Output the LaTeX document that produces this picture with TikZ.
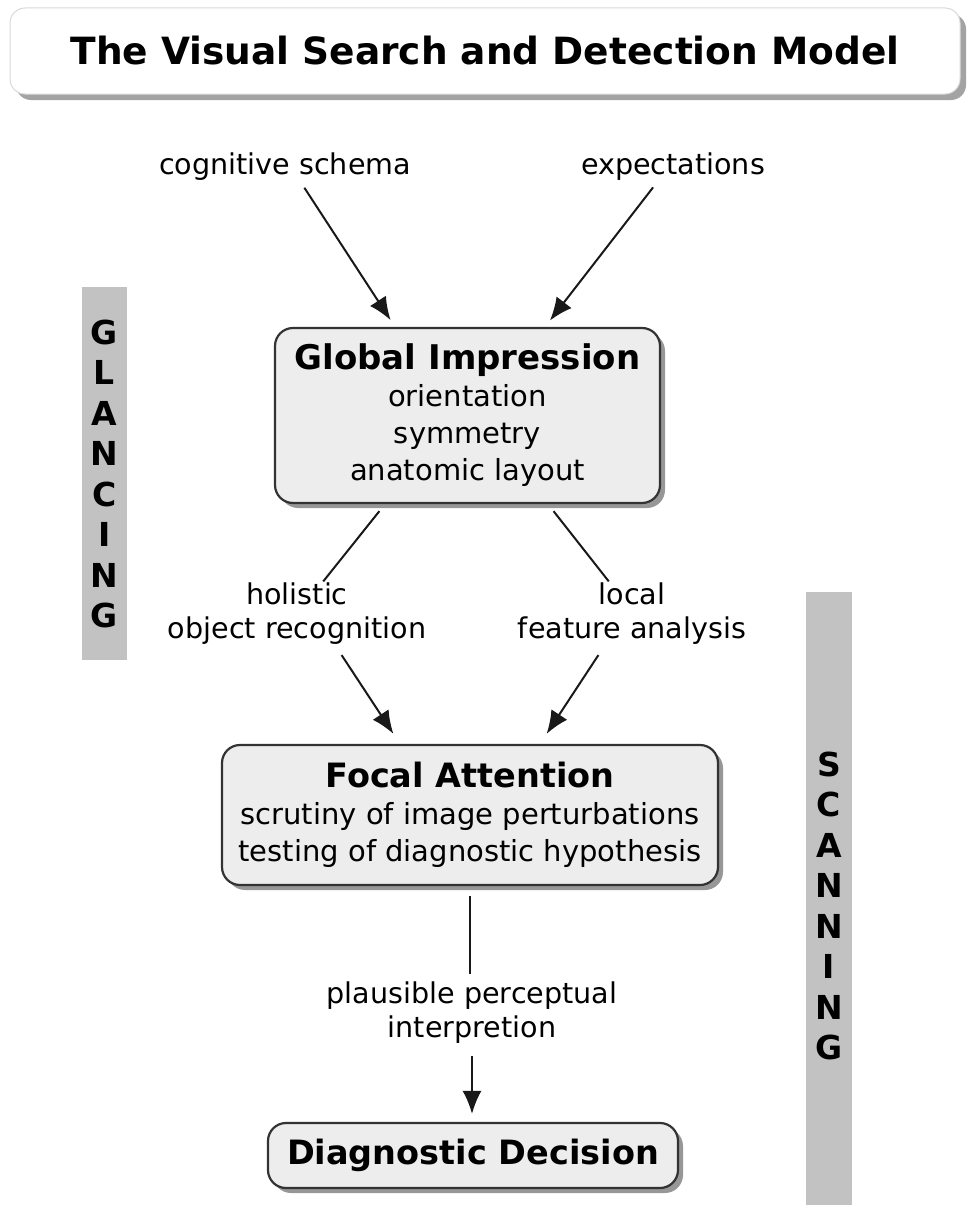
\documentclass[tikz,border=0pt]{standalone}
\usepackage{fontspec}
\setmainfont{DejaVu Sans}
\usetikzlibrary{arrows.meta,shadows}
\tikzset{
  box/.style={draw=black!80, line width=2.2pt, rounded corners=18pt, fill=black!7, align=center, inner sep=0pt,
    font=\fontsize{29}{37}\selectfont,
    drop shadow={shadow xshift=5pt, shadow yshift=-5pt, fill=black!45, opacity=0.9}},
  ttl/.style={draw=black!15, line width=1pt, rounded corners=15pt, fill=white, inner sep=0pt,
    font=\bfseries\fontsize{37.5}{44}\selectfont,
    drop shadow={shadow xshift=6pt, shadow yshift=-6pt, fill=black!40, opacity=0.9}},
  lbl/.style={font=\fontsize{28.6}{34}\selectfont, align=center, inner sep=0pt},
  bar/.style={fill=black!24, draw=none, inner sep=0pt},
  letters/.style={font=\bfseries\fontsize{33}{40.5}\selectfont, align=center, inner sep=0pt},
  conn/.style={line width=2pt, black!90},
  arr/.style={line width=2pt, black!90, -{Latex[length=23pt,width=19pt]}},
  boxhead/.style={font=\bfseries\fontsize{33.5}{37}\selectfont},
}
\begin{document}
\begin{tikzpicture}[x=1pt,y=-1pt]
\useasboundingbox (0,0) rectangle (976,1215);

% title
\node[ttl, minimum width=950pt, minimum height=86pt] (title) at (485,51) {The Visual Search and Detection Model};

% side bars
\node[bar, minimum width=45pt, minimum height=373pt] (gbar) at (104.5,473.5) {};
\node[letters] (gtxt) at (104.5,474) {G\\L\\A\\N\\C\\I\\N\\G};
\node[bar, minimum width=46pt, minimum height=613pt] (sbar) at (829,898.5) {};
\node[letters] (stxt) at (829,906) {S\\C\\A\\N\\N\\I\\N\\G};

% inputs
\node[lbl] (cs) at (285,167) {cognitive schema};
\node[lbl] (ex) at (673,167) {expectations};

% boxes
\node[box, minimum width=385pt, minimum height=175pt] (gi) at (467.5,415.5)
  {{\bfseries\fontsize{34}{37}\selectfont Global Impression}\\orientation\\symmetry\\anatomic layout};
\node[box, minimum width=496pt, minimum height=140pt] (fa) at (470,815)
  {{\bfseries\fontsize{33.5}{37}\selectfont Focal Attention}\\scrutiny of image perturbations\\testing of diagnostic hypothesis};
\node[box, minimum width=410pt, minimum height=65pt] (dd) at (473,1155.5)
  {\bfseries\fontsize{33.5}{37}\selectfont Diagnostic Decision};

% mid labels
\node[lbl] (hol) at (297,614) {holistic\\object recognition};
\node[lbl] (loc) at (632,614) {local\\feature analysis};
\node[lbl] (pl) at (472,1013) {plausible perceptual\\interpretion};

% connectors
\draw[arr, shorten <=8pt, shorten >=8pt] ([xshift=15pt]cs.south) -- ([xshift=-72.5pt]gi.north);
\draw[arr, shorten <=8pt, shorten >=8pt] ([xshift=-15pt]ex.south) -- ([xshift=77.5pt]gi.north);
\draw[conn, shorten <=9pt, shorten >=2pt] ([xshift=-82.5pt]gi.south) -- ([xshift=25pt]hol.north);
\draw[conn, shorten <=9pt, shorten >=2pt] ([xshift=80.5pt]gi.south) -- ([xshift=-22pt]loc.north);
\draw[arr, shorten <=12pt, shorten >=12pt] ([xshift=38pt]hol.south) -- ([xshift=-70pt]fa.north);
\draw[arr, shorten <=12pt, shorten >=12pt] ([xshift=-27pt]loc.south) -- ([xshift=70pt]fa.north);
\draw[conn, shorten <=10pt, shorten >=8pt] (fa.south) -- (fa.south |- pl.north);
\draw[arr, shorten <=12pt, shorten >=8pt] (pl.south) -- (dd.north -| pl.south);
\end{tikzpicture}
\end{document}
